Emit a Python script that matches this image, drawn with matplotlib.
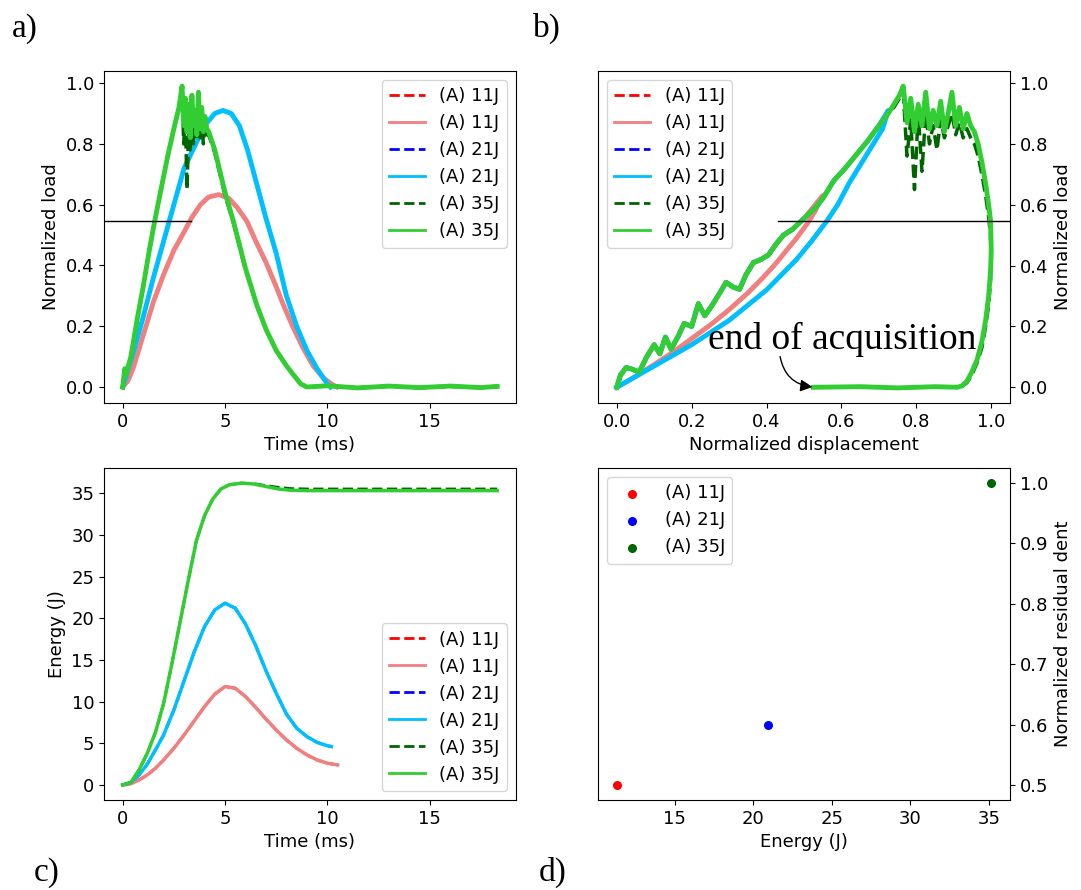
import numpy as np
import matplotlib
matplotlib.use("Agg")
import matplotlib.pyplot as plt
from matplotlib.lines import Line2D

# ---------------------------------------------------------------------------
# a) normalized load vs time (ms)
# ---------------------------------------------------------------------------
t_11 = [0, 0.25, 0.5, 1.0, 1.5, 2.0, 2.5, 3.0, 3.35, 3.8, 4.2, 4.7, 5.2, 5.6,
        6.07, 6.5, 7.0, 7.5, 7.85, 8.3, 8.8, 9.3, 9.8, 10.2, 10.46]
load_11 = [0, 0.02, 0.06, 0.17, 0.28, 0.37, 0.45, 0.51, 0.555, 0.6, 0.625,
           0.633, 0.62, 0.59, 0.545, 0.48, 0.41, 0.33, 0.27, 0.2, 0.13, 0.07,
           0.03, 0.01, 0.0]

t_21 = [0, 0.5, 1.0, 1.5, 2.0, 2.5, 3.0, 3.5, 4.0, 4.5, 4.9, 5.3, 5.7, 6.1,
        6.5, 7.0, 7.5, 8.0, 8.5, 9.0, 9.5, 10.0, 10.15]
load_21 = [0, 0.11, 0.23, 0.36, 0.48, 0.6, 0.72, 0.79, 0.86, 0.9, 0.91, 0.9,
           0.86, 0.78, 0.68, 0.555, 0.44, 0.3, 0.2, 0.12, 0.06, 0.01, 0.0]

t_35 = [0, 0.1, 0.15, 0.4, 0.7, 1.0, 1.3, 1.56, 1.9, 2.2, 2.5, 2.75, 2.9,
        2.98, 3.06, 3.14, 3.22, 3.3, 3.38, 3.46, 3.54, 3.62, 3.7, 3.78, 3.86,
        3.94, 4.02, 4.1, 4.2, 4.5, 5.0, 5.41, 6.0, 6.56, 7.0, 7.5, 8.0, 8.34,
        8.7, 9.0, 10.0, 11.5, 13.0, 14.5, 16.0, 17.5, 18.3]
load_35 = [0, 0.06, 0.04, 0.1, 0.22, 0.33, 0.45, 0.545, 0.66, 0.76, 0.85,
           0.92, 0.99, 0.86, 0.95, 0.84, 0.93, 0.82, 0.96, 0.86, 0.91, 0.83,
           0.97, 0.85, 0.92, 0.84, 0.89, 0.85, 0.84, 0.78, 0.64, 0.545, 0.39,
           0.268, 0.19, 0.12, 0.07, 0.04, 0.01, 0.0, 0.004, -0.003, 0.003,
           -0.002, 0.003, -0.002, 0.002]
load_35_raw = [0, 0.06, 0.04, 0.1, 0.22, 0.33, 0.45, 0.545, 0.66, 0.76, 0.85,
               0.92, 0.98, 0.8, 0.9, 0.65, 0.84, 0.78, 0.9, 0.8, 0.87, 0.81,
               0.92, 0.82, 0.88, 0.8, 0.86, 0.83, 0.83, 0.77, 0.63, 0.54,
               0.385, 0.265, 0.19, 0.12, 0.07, 0.04, 0.01, 0.0, 0.003, -0.002,
               0.002, -0.003, 0.002, -0.002, 0.002]

# ---------------------------------------------------------------------------
# b) normalized load vs normalized displacement
# ---------------------------------------------------------------------------
disp_11 = [0, 0.01, 0.025, 0.04, 0.06, 0.08, 0.1, 0.115, 0.13, 0.145, 0.165,
           0.18, 0.2, 0.218, 0.235, 0.255, 0.275, 0.292, 0.31, 0.328, 0.345,
           0.365, 0.385, 0.405, 0.425, 0.445, 0.47, 0.5, 0.53, 0.55,
           0.53, 0.51, 0.48, 0.45, 0.42, 0.39, 0.35, 0.3, 0.25, 0.2, 0.15,
           0.1, 0.05, 0]
bload_11 = [0, 0.04, 0.065, 0.06, 0.05, 0.1, 0.14, 0.11, 0.165, 0.125, 0.17,
            0.21, 0.2, 0.275, 0.235, 0.27, 0.31, 0.345, 0.33, 0.322, 0.37,
            0.41, 0.42, 0.435, 0.47, 0.5, 0.52, 0.555, 0.6, 0.63,
            0.58, 0.54, 0.49, 0.445, 0.4, 0.36, 0.31, 0.255, 0.205, 0.16,
            0.115, 0.075, 0.035, 0]

disp_21 = [0, 0.01, 0.025, 0.04, 0.06, 0.08, 0.1, 0.115, 0.13, 0.145, 0.165,
           0.18, 0.2, 0.218, 0.235, 0.255, 0.275, 0.292, 0.31, 0.328, 0.345,
           0.365, 0.385, 0.405, 0.425, 0.445, 0.47, 0.5, 0.53, 0.55, 0.58,
           0.61, 0.64, 0.67, 0.7, 0.725,
           0.71, 0.68, 0.65, 0.62, 0.59, 0.56, 0.52, 0.48, 0.44, 0.4, 0.35,
           0.3, 0.25, 0.2, 0.15, 0.1, 0.05, 0]
bload_21 = [0, 0.04, 0.065, 0.06, 0.05, 0.1, 0.14, 0.11, 0.165, 0.125, 0.17,
            0.21, 0.2, 0.275, 0.235, 0.27, 0.31, 0.345, 0.33, 0.322, 0.37,
            0.41, 0.42, 0.435, 0.47, 0.5, 0.52, 0.555, 0.59, 0.62, 0.68,
            0.72, 0.765, 0.81, 0.86, 0.91,
            0.85, 0.79, 0.73, 0.67, 0.6, 0.545, 0.48, 0.42, 0.37, 0.32, 0.27,
            0.22, 0.18, 0.14, 0.105, 0.07, 0.035, 0]

disp_35 = [0, 0.01, 0.025, 0.04, 0.06, 0.08, 0.1, 0.115, 0.13, 0.145, 0.165,
           0.18, 0.2, 0.218, 0.235, 0.255, 0.275, 0.292, 0.31, 0.328, 0.345,
           0.365, 0.385, 0.405, 0.425, 0.445, 0.47, 0.5, 0.53, 0.55, 0.58,
           0.61, 0.64, 0.67, 0.7, 0.725,
           0.74, 0.755, 0.765, 0.775, 0.785, 0.795, 0.805, 0.815, 0.825,
           0.835, 0.845, 0.855, 0.865, 0.875, 0.885, 0.895, 0.905, 0.915,
           0.925, 0.935, 0.945, 0.955, 0.965, 0.975, 0.985, 0.993, 0.998,
           1.0, 0.998, 0.993, 0.985, 0.975, 0.962, 0.948, 0.935, 0.922, 0.91,
           0.85, 0.75, 0.65, 0.525]
bload_35 = [0, 0.04, 0.065, 0.06, 0.05, 0.1, 0.14, 0.11, 0.165, 0.125, 0.17,
            0.21, 0.2, 0.275, 0.235, 0.27, 0.31, 0.345, 0.33, 0.322, 0.37,
            0.41, 0.42, 0.435, 0.47, 0.5, 0.52, 0.555, 0.59, 0.62, 0.68,
            0.72, 0.765, 0.81, 0.86, 0.9,
            0.93, 0.96, 0.99, 0.87, 0.95, 0.84, 0.93, 0.86, 0.97, 0.85, 0.91,
            0.86, 0.94, 0.84, 0.9, 0.97, 0.86, 0.92, 0.85, 0.9, 0.86, 0.84,
            0.8, 0.74, 0.67, 0.6, 0.55, 0.45, 0.38, 0.3, 0.22, 0.15, 0.09,
            0.05, 0.02, 0.005, 0.0, 0.002, -0.002, 0.002, 0.0]
bload_35_raw = [0, 0.04, 0.065, 0.06, 0.05, 0.1, 0.14, 0.11, 0.165, 0.125,
                0.17, 0.21, 0.2, 0.275, 0.235, 0.27, 0.31, 0.345, 0.33, 0.322,
                0.37, 0.41, 0.42, 0.435, 0.47, 0.5, 0.52, 0.555, 0.59, 0.62,
                0.68, 0.72, 0.765, 0.81, 0.86, 0.9,
                0.92, 0.95, 0.97, 0.76, 0.88, 0.65, 0.9, 0.71, 0.9, 0.8, 0.86,
                0.78, 0.88, 0.82, 0.86, 0.9, 0.83, 0.87, 0.82, 0.85, 0.82,
                0.8, 0.76, 0.7, 0.63, 0.56, 0.5, 0.42, 0.35, 0.27, 0.2, 0.13,
                0.08, 0.04, 0.015, 0.003, 0.0, 0.002, -0.002, 0.002, 0.0]

# ---------------------------------------------------------------------------
# c) energy vs time (ms)
# ---------------------------------------------------------------------------
te_11 = [0, 0.4, 0.8, 1.2, 1.6, 2.0, 2.5, 3.0, 3.5, 4.0, 4.5, 5.0, 5.5, 6.0,
         6.5, 7.0, 7.5, 8.0, 8.5, 9.0, 9.5, 10.0, 10.5]
en_11 = [0, 0.15, 0.6, 1.2, 2.0, 3.0, 4.4, 6.0, 7.7, 9.4, 10.9, 11.8, 11.6,
         10.6, 9.3, 7.9, 6.6, 5.4, 4.4, 3.6, 3.0, 2.6, 2.4]

te_21 = [0, 0.4, 0.8, 1.2, 1.6, 2.0, 2.5, 3.0, 3.5, 4.0, 4.5, 5.0, 5.5, 6.0,
         6.5, 7.0, 7.5, 8.0, 8.5, 9.0, 9.5, 10.0, 10.2]
en_21 = [0, 0.3, 1.2, 2.5, 4.2, 6.0, 9.0, 12.5, 16.0, 19.0, 21.0, 21.8, 21.2,
         19.3, 16.7, 13.7, 11.0, 8.5, 6.8, 5.8, 5.1, 4.7, 4.6]

te_35 = [0, 0.4, 0.8, 1.2, 1.6, 2.0, 2.4, 2.8, 3.2, 3.6, 4.0, 4.4, 4.8, 5.2,
         5.8, 6.4, 7.0, 7.6, 8.2, 9.0, 18.3]
en_35 = [0, 0.3, 1.8, 3.8, 6.3, 9.8, 14.5, 19.5, 24.5, 29.3, 32.3, 34.3, 35.5,
         36.0, 36.2, 36.1, 35.8, 35.5, 35.35, 35.3, 35.3]
en_35_raw = [0, 0.3, 1.8, 3.8, 6.3, 9.8, 14.5, 19.5, 24.5, 29.3, 32.3, 34.3,
             35.5, 36.0, 36.2, 36.15, 35.9, 35.7, 35.55, 35.5, 35.5]

# ---------------------------------------------------------------------------
# d) normalized residual dent vs energy
# ---------------------------------------------------------------------------
energies = [11.3, 20.95, 35.15]
dent = [0.5, 0.6, 1.0]
labels = ["(A) 11J", "(A) 21J", "(A) 35J"]
dash_colors = ["red", "blue", "darkgreen"]
solid_colors = ["lightcoral", "deepskyblue", "limegreen"]

plt.rcParams["font.size"] = 13

fig = plt.figure(figsize=(10.81, 8.90), dpi=100)
ax_a = fig.add_axes([0.0962, 0.5472, 0.3811, 0.3730])
ax_b = fig.add_axes([0.5532, 0.5472, 0.3811, 0.3730])
ax_c = fig.add_axes([0.0962, 0.1011, 0.3811, 0.3730])
ax_d = fig.add_axes([0.5532, 0.1011, 0.3811, 0.3730])

# legend entries: thin dashed / solid pairs
handles = []
for lab, cd, cs in zip(labels, dash_colors, solid_colors):
    handles.append(Line2D([], [], ls="--", color=cd, lw=2, label=lab))
    handles.append(Line2D([], [], ls="-", color=cs, lw=2, label=lab))

# --- a
series_a = [(t_11, load_11, load_11), (t_21, load_21, load_21),
            (t_35, load_35_raw, load_35)]
for (t, raw, filt), cd, cs in zip(series_a, dash_colors, solid_colors):
    ax_a.plot(t, raw, "--", color=cd, lw=2.5)
    ax_a.plot(t, filt, "-", color=cs, lw=3.5)
ax_a.axhline(0.545, xmin=0, xmax=0.21, color="k", lw=1)
ax_a.set_xlabel("Time (ms)")
ax_a.set_ylabel("Normalized load")
ax_a.set_xticks([0, 5, 10, 15])
ax_a.legend(handles=handles, loc="upper right")

# --- b
series_b = [(disp_11, bload_11, bload_11), (disp_21, bload_21, bload_21),
            (disp_35, bload_35_raw, bload_35)]
for (x, raw, filt), cd, cs in zip(series_b, dash_colors, solid_colors):
    ax_b.plot(x, raw, "--", color=cd, lw=2.5)
    ax_b.plot(x, filt, "-", color=cs, lw=3.5)
ax_b.axhline(0.545, xmin=0.437, xmax=1, color="k", lw=1)
ax_b.yaxis.tick_right()
ax_b.yaxis.set_label_position("right")
ax_b.set_xlabel("Normalized displacement")
ax_b.set_ylabel("Normalized load")
ax_b.legend(handles=handles, loc="upper left")
ax_b.text(0.245, 0.126, "end of acquisition", family="Liberation Serif",
          fontsize=27)
ax_b.annotate("", xy=(0.53, 0.0), xytext=(0.435, 0.11),
              arrowprops=dict(arrowstyle="-|>", color="k", lw=1,
                              connectionstyle="arc3,rad=0.4",
                              mutation_scale=18))

# --- c
series_c = [(te_11, en_11, en_11), (te_21, en_21, en_21),
            (te_35, en_35_raw, en_35)]
for (t, raw, filt), cd, cs in zip(series_c, dash_colors, solid_colors):
    ax_c.plot(t, raw, "--", color=cd, lw=2)
    ax_c.plot(t, filt, "-", color=cs, lw=2.5)
ax_c.set_xlabel("Time (ms)")
ax_c.set_ylabel("Energy (J)")
ax_c.set_xticks([0, 5, 10, 15])
ax_c.legend(handles=handles, loc="lower right")

# --- d
for e, d, lab, c in zip(energies, dent, labels, dash_colors):
    ax_d.scatter([e], [d], s=30, color=c, label=lab)
ax_d.yaxis.tick_right()
ax_d.yaxis.set_label_position("right")
ax_d.set_xlabel("Energy (J)")
ax_d.set_ylabel("Normalized residual dent")
ax_d.legend(loc="upper left", scatterpoints=1)

# panel letters
for x, y, s in [(0.011, 0.968, "a)"), (0.493, 0.968, "b)"),
                (0.031, 0.020, "c)"), (0.498, 0.020, "d)")]:
    fig.text(x, y, s, family="Liberation Serif", fontsize=24, va="center")

fig.savefig("out.png", dpi=100)
